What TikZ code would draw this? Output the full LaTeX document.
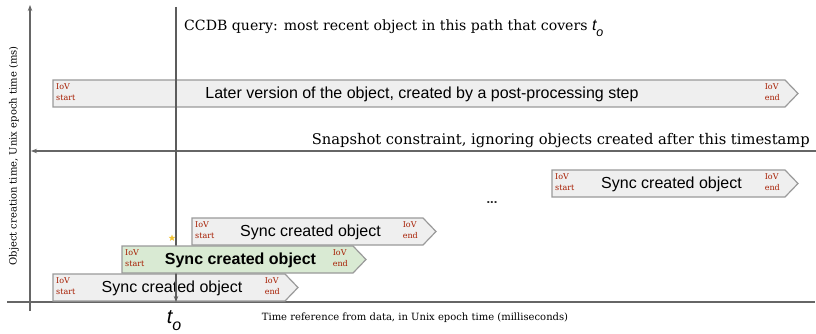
\documentclass[tikz,border=0pt]{standalone}
\usepackage{fontspec}
\setmainfont{DejaVu Serif}
\setsansfont{Liberation Sans}
\usetikzlibrary{arrows.meta,shapes.geometric}

\definecolor{boxgray}{HTML}{EFEFEF}
\definecolor{boxedge}{HTML}{9A9A9A}
\definecolor{okgreen}{HTML}{D9EAD3}
\definecolor{iovred}{HTML}{A61C00}
\definecolor{axisgray}{HTML}{666666}
\definecolor{stargold}{HTML}{F1C232}

\tikzset{
  boxline/.style={draw=boxedge, line width=1.2pt, fill=boxgray},
  greenbox/.style={fill=okgreen},
  iov/.style={font=\fontsize{8}{11}\selectfont, text=iovred, align=left, inner sep=0pt},
  objtext/.style={font=\sffamily\fontsize{16}{18}\selectfont, inner sep=0pt},
  axisline/.style={draw=axisgray, line width=1.2pt},
  arrowtip/.style={-{Stealth[length=6pt,width=4.5pt]}},
  note/.style={font=\fontsize{14.7}{18}\selectfont, inner sep=0pt, anchor=base west},
  axislabel/.style={font=\fontsize{10}{12}\selectfont, inner sep=0pt},
}

% t with subscript o, in sans italic: #1 size of t, #2 size of o
\newcommand{\tzero}[2]{{\sffamily\itshape\fontsize{#1}{#1}\selectfont t\raisebox{-0.35em}{\fontsize{#2}{#2}\selectfont o}}}

% object with an interval of validity: #1 name, #2 left, #3 top, #4 right of body, #5 extra style, #6 text
\newcommand{\objbox}[6]{%
  \draw[boxline,#5] (#2,#3) -- (#4,#3) -- (#4+13,#3+13.5) -- (#4,#3+27) -- (#2,#3+27) -- cycle;
  \node[iov,anchor=north west] (#1-s) at (#2+3,#3+3) {IoV\\start};
  \node[iov,anchor=north east] (#1-e) at (#4-5,#3+3) {IoV\\end};
  \node[objtext] (#1) at ({(#2+#4)/2+3},#3+14) {#6};
}

\begin{document}
\begin{tikzpicture}[x=1pt,y=-1pt]
  \useasboundingbox (0,0) rectangle (816,334);

  % axes
  \coordinate (yb) at (30,311);
  \coordinate (yt) at (30,5);
  \coordinate (xl) at (7,302);
  \coordinate (xr) at (815,302);
  \draw[axisline] (xl) -- (xr);
  \draw[axisline,arrowtip] (yb) -- (yt);
  \node[axislabel,rotate=90] (ylab) at (14,156) {Object creation time, Unix epoch time (ms)};
  \node[axislabel] (xlab) at (415,318) {Time reference from data, in Unix epoch time (milliseconds)};

  % objects in the path
  \objbox{later}{53}{80}{785}{}{Later version of the object, created by a post-processing step}
  \objbox{syncR}{552}{170}{785}{}{Sync created object}
  \objbox{syncA}{192}{218}{423}{}{Sync created object}
  \objbox{syncC}{53}{274}{285}{}{Sync created object}
  \node[font=\sffamily\bfseries\fontsize{13}{14}\selectfont, text=black!85] (dots) at (492,203) {...};

  % snapshot constraint
  \coordinate (snapR) at (816,151);
  \coordinate (snapL) at (31,151);
  \draw[axisline,arrowtip] (snapR) -- (snapL);
  \node[note,anchor=base east] (snaplab) at (810,145) {Snapshot constraint, ignoring objects created after this timestamp};

  % query at t_o
  \coordinate (qt) at (176,7);
  \coordinate (qb) at (176,302);
  \draw[axisline,draw=axisgray!90!black,arrowtip] (qt) -- (qb);
  \node[note,font=\fontsize{14.1}{18}\selectfont] (qlab) at (184,31) {CCDB query: most recent object in this path that covers \tzero{16}{12.5}};
  \node[inner sep=0pt] (to) at (174,321) {\tzero{20}{16}};

  % the object returned by the query
  \objbox{syncB}{122}{246}{353}{greenbox}{\bfseries Sync created object}
  \node[star,star points=5,star point ratio=2.4,fill=stargold,inner sep=0pt,minimum size=7pt] (hit) at (172,238) {};
\end{tikzpicture}
\end{document}
